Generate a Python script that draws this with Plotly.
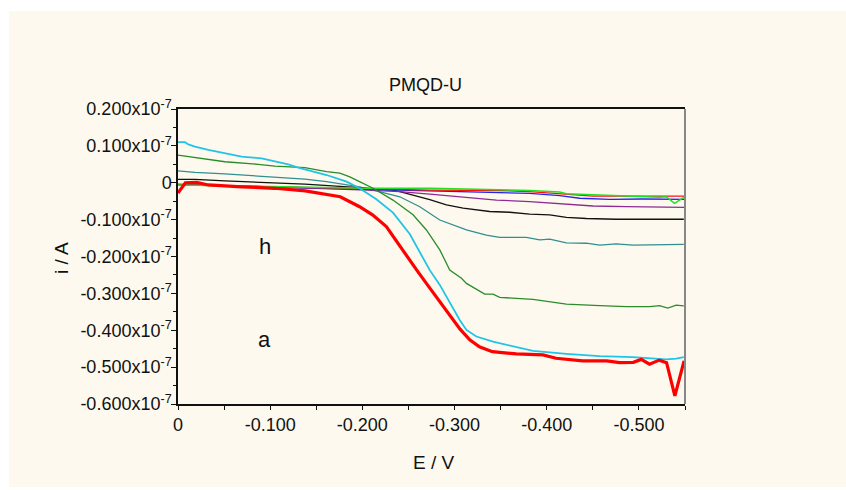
import plotly.graph_objects as go

# Potential E (V) and current i (in units of 1e-7 A) for each curve
E_a = [0, -0.008, -0.02, -0.033, -0.069, -0.105, -0.138, -0.160, -0.176, -0.197, -0.211, -0.226, -0.2406,
       -0.259, -0.273, -0.284, -0.295, -0.306, -0.3165, -0.327, -0.341, -0.367, -0.396, -0.410, -0.439,
       -0.465, -0.479, -0.494, -0.5025, -0.5115, -0.522, -0.530, -0.539, -0.549]
i_a = [-0.028, 0.000, 0.001, -0.006, -0.011, -0.015, -0.022, -0.030, -0.038, -0.065, -0.087, -0.119, -0.172,
       -0.237, -0.285, -0.322, -0.359, -0.397, -0.426, -0.445, -0.458, -0.464, -0.467, -0.476, -0.483,
       -0.483, -0.488, -0.487, -0.479, -0.492, -0.481, -0.488, -0.578, -0.483]

E_b = [0, -0.0076, -0.0112, -0.0184, -0.0329, -0.0546, -0.069, -0.0907, -0.1051, -0.1196, -0.1304, -0.1376,
       -0.1612, -0.1829, -0.1969, -0.2152, -0.2332, -0.2514, -0.2623, -0.2731, -0.284, -0.2948, -0.3056,
       -0.3129, -0.3237, -0.3417, -0.3671, -0.3851, -0.4213, -0.4574, -0.4935, -0.5296, -0.5404, -0.5487]
i_b = [0.110, 0.110, 0.104, 0.098, 0.089, 0.077, 0.071, 0.066, 0.059, 0.050, 0.041, 0.036,
       0.021, 0.003, -0.015, -0.045, -0.081, -0.139, -0.188, -0.237, -0.277, -0.323, -0.372,
       -0.399, -0.417, -0.431, -0.446, -0.456, -0.464, -0.470, -0.473, -0.479, -0.477, -0.473]

E_c = [0, -0.0184, -0.0329, -0.0509, -0.087, -0.1051, -0.1376, -0.1612, -0.1756, -0.1864, -0.1969, -0.2117,
       -0.2332, -0.2406, -0.255, -0.2695, -0.284, -0.2948, -0.3075, -0.3129, -0.3327, -0.3417, -0.349,
       -0.3851, -0.4067, -0.4213, -0.4574, -0.4863, -0.5115, -0.5224, -0.5314, -0.5404, -0.5487]
i_c = [0.075, 0.068, 0.064, 0.057, 0.050, 0.045, 0.041, 0.030, 0.026, 0.016, 0.003, -0.015,
       -0.047, -0.060, -0.087, -0.128, -0.182, -0.237, -0.259, -0.273, -0.302, -0.302, -0.311,
       -0.316, -0.323, -0.329, -0.333, -0.336, -0.336, -0.333, -0.340, -0.332, -0.334]

E_d = [0, -0.0184, -0.0509, -0.087, -0.1051, -0.1376, -0.1612, -0.1969, -0.2258, -0.2406, -0.2623, -0.284,
       -0.3129, -0.3345, -0.349, -0.3779, -0.3924, -0.4032, -0.4213, -0.443, -0.4574, -0.4755, -0.4935,
       -0.5296, -0.5487]
i_d = [0.032, 0.028, 0.024, 0.019, 0.016, 0.010, 0.003, -0.011, -0.029, -0.038, -0.065, -0.101,
       -0.128, -0.142, -0.148, -0.148, -0.155, -0.153, -0.163, -0.164, -0.169, -0.166, -0.169,
       -0.169, -0.167]

E_e = [0, -0.0184, -0.0509, -0.1051, -0.1376, -0.1969, -0.2332, -0.2406, -0.2623, -0.2731, -0.2912, -0.3093,
       -0.3381, -0.3598, -0.3815, -0.4032, -0.4213, -0.443, -0.4755, -0.5296, -0.5487]
i_e = [0.009, 0.009, 0.005, -0.001, -0.004, -0.013, -0.020, -0.024, -0.038, -0.046, -0.060, -0.069,
       -0.078, -0.080, -0.085, -0.087, -0.094, -0.097, -0.099, -0.098, -0.099]

E_f = [0, -0.05, -0.1, -0.133, -0.2049, -0.2406, -0.2731, -0.3093, -0.3455, -0.3815, -0.4141, -0.4502,
       -0.4863, -0.55]
i_f = [-0.004, -0.007, -0.011, -0.014, -0.020, -0.024, -0.031, -0.039, -0.047, -0.051, -0.056, -0.063,
       -0.065, -0.067]

E_g = [0, -0.05, -0.1, -0.133, -0.2, -0.2731, -0.3093, -0.3455, -0.3815, -0.4141, -0.4358, -0.4683,
       -0.5044, -0.55]
i_g = [-0.005, -0.008, -0.011, -0.014, -0.017, -0.021, -0.024, -0.027, -0.029, -0.035, -0.042, -0.045,
       -0.044, -0.045]

E_h = [0, -0.05, -0.1, -0.137, -0.205, -0.2731, -0.3455, -0.3815, -0.4141, -0.4213, -0.4574, -0.4935,
       -0.5224, -0.5296, -0.5387, -0.5495]
i_h = [-0.006, -0.008, -0.009, -0.011, -0.015, -0.015, -0.018, -0.021, -0.025, -0.030, -0.033, -0.037,
       -0.039, -0.038, -0.056, -0.038]

E_r2 = [0, -0.1, -0.2, -0.2731, -0.3455, -0.3815, -0.4141, -0.4502, -0.55]
i_r2 = [-0.006, -0.010, -0.016, -0.020, -0.021, -0.024, -0.029, -0.036, -0.036]

y_ticks = [0.2, 0.1, 0.0, -0.1, -0.2, -0.3, -0.4, -0.5, -0.6]
y_ticktext = ["0" if v == 0 else f"{v:.3f}x10<sup>-7</sup>" for v in y_ticks]
x_ticks = [0.0, -0.1, -0.2, -0.3, -0.4, -0.5]
x_ticktext = ["0" if v == 0 else f"{v:.3f}" for v in x_ticks]

FONT = "Liberation Sans, Arial, sans-serif"

series = [
    (E_d, i_d, "#2E9090", 1.3),
    (E_e, i_e, "#111111", 1.3),
    (E_f, i_f, "#8E2A94", 1.3),
    (E_g, i_g, "#2424F0", 1.3),
    (E_r2, i_r2, "#FF1010", 1.3),
    (E_h, i_h, "#22E022", 1.5),
    (E_c, i_c, "#2A8C2A", 1.3),
    (E_b, i_b, "#20C4E8", 1.8),
    (E_a, i_a, "#FF0000", 3.2),
]

fig = go.Figure()
for ex, iy, col, w in series:
    fig.add_trace(go.Scatter(x=ex, y=iy, mode="lines", line=dict(color=col, width=w),
                             showlegend=False, hoverinfo="skip"))

W, H = 846, 490
L, T = 178, 109
pw, ph = 507, 295
R, B = W - L - pw, H - T - ph

def px(x):
    return (x - L) / pw

def py(y):
    return (T + ph - y) / ph

fig.update_layout(
    width=W, height=H, autosize=False,
    margin=dict(l=L, r=R, t=T, b=B, pad=0),
    paper_bgcolor="white", plot_bgcolor="white",
    font=dict(family=FONT, size=18, color="#111111"),
    shapes=[
        dict(type="rect", xref="paper", yref="paper", x0=px(9), x1=px(846), y0=py(487), y1=py(11),
             fillcolor="#FDF9EE", line=dict(width=0), layer="below"),
        dict(type="line", xref="paper", yref="paper", x0=1, x1=1, y0=0, y1=1,
             line=dict(color="#888888", width=2)),
    ],
    xaxis=dict(range=[0, -0.55], showline=True, linecolor="#111111", linewidth=1.5, mirror=True,
               ticks="outside", ticklen=4, tickcolor="#111111", tickwidth=1,
               tickmode="array", tickvals=x_ticks, ticktext=x_ticktext,
               showgrid=False, zeroline=False,
               minor=dict(tickmode="linear", tick0=0, dtick=0.05, ticks="outside", ticklen=4,
                          tickcolor="#111111", showgrid=False)),
    yaxis=dict(range=[-0.6, 0.2], showline=True, linecolor="#111111", linewidth=1.5,
               ticks="outside", ticklen=5, tickcolor="#111111", tickwidth=1,
               tickmode="array", tickvals=y_ticks, ticktext=y_ticktext,
               ticklabelstandoff=-4,
               showgrid=False, zeroline=False,
               minor=dict(tickmode="linear", tick0=0, dtick=0.05, ticks="outside", ticklen=3,
                          tickcolor="#111111", showgrid=False)),
    annotations=[
        dict(text="PMQD-U", xref="paper", yref="paper", x=px(425), y=py(85), showarrow=False,
             xanchor="center", yanchor="middle", font=dict(size=18)),
        dict(text="E / V", xref="paper", yref="paper", x=px(434), y=py(462), showarrow=False,
             xanchor="center", yanchor="middle", font=dict(size=19)),
        dict(text="i / A", xref="paper", yref="paper", x=px(61), y=py(258), showarrow=False,
             xanchor="center", yanchor="middle", textangle=-90, font=dict(size=19)),
        dict(text="h", xref="x", yref="y", x=-0.0943, y=-0.172, showarrow=False,
             xanchor="center", yanchor="middle", font=dict(size=22)),
        dict(text="a", xref="x", yref="y", x=-0.0943, y=-0.424, showarrow=False,
             xanchor="center", yanchor="middle", font=dict(size=22)),
    ],
)

# remove the default page margin so the figure fills the window exactly
fig.write_html(
    "out.html",
    config={"displayModeBar": False},
    post_script="document.body.style.margin='0';document.body.style.overflow='hidden';"
                "document.documentElement.style.overflow='hidden';",
)
